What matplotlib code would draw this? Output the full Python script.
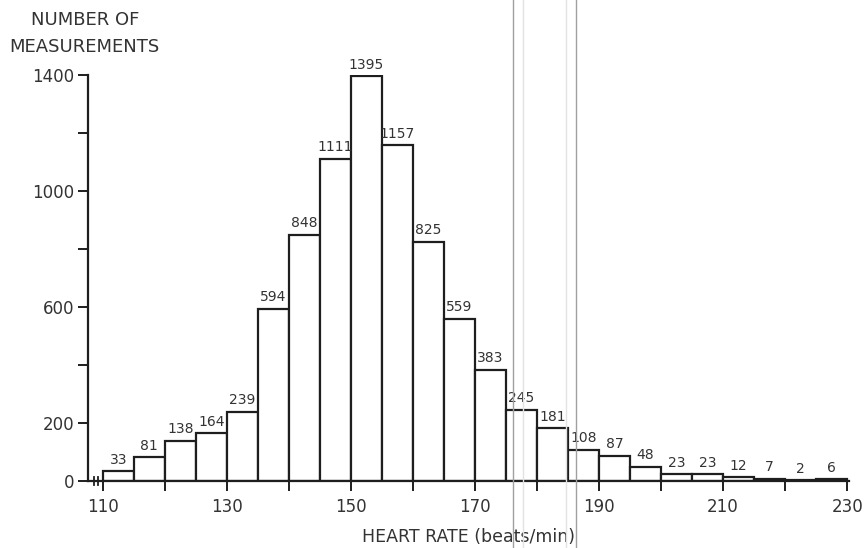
import matplotlib
matplotlib.use("Agg")
import matplotlib.pyplot as plt
from matplotlib.lines import Line2D

# histogram of heart rate, 5 beats/min bins starting at 110
bin_start = 110
bin_width = 5
counts = [33, 81, 138, 164, 239, 594, 848, 1111, 1395, 1157, 825, 559,
          383, 245, 181, 108, 87, 48, 23, 23, 12, 7, 2, 6]
x_tick_labels = [110, 130, 150, 170, 190, 210, 230]
y_tick_labels = [0, 200, 600, 1000, 1400]

edges = [bin_start + i * bin_width for i in range(len(counts))]

plt.rcParams['font.family'] = ['DejaVu Sans']
ink = "#1e1e1e"
txt = "#333333"

fig = plt.figure(figsize=(8.65, 5.48), dpi=100)
ax = fig.add_axes([0.1017, 0.1223, 0.8798, 0.7408])

ax.bar(edges, counts, width=bin_width, align="edge", color="white",
       edgecolor=ink, linewidth=1.6, zorder=2)

for x, c in zip(edges, counts):
    ax.text(x + bin_width / 2, c + 16, str(c), ha="center", va="bottom",
            fontsize=10, color=txt)

ax.set_xlim(107.6, 230.3)
ax.set_ylim(0, 1400)

for s in ["top", "right"]:
    ax.spines[s].set_visible(False)
for s in ["left", "bottom"]:
    ax.spines[s].set_linewidth(1.6)
    ax.spines[s].set_color(ink)

ax.set_xticks(range(110, 231, 10))
ax.set_xticklabels([str(v) if v in x_tick_labels else "" for v in range(110, 231, 10)])
ax.set_yticks(range(0, 1401, 200))
ax.set_yticklabels([str(v) if v in y_tick_labels else "" for v in range(0, 1401, 200)])
ax.tick_params(axis="both", direction="out", length=7, width=1.4, color=ink,
               labelsize=12, labelcolor=txt)
ax.tick_params(axis="x", pad=5)
ax.tick_params(axis="y", pad=3)

# axis break marks between the y axis and 110
for xb in [108.6, 109.2]:
    ax.plot([xb, xb], [-14, 14], color=ink, lw=1.3, clip_on=False, zorder=3)

ax.set_xlabel("HEART RATE (beats/min)", fontsize=12.5, color=txt, labelpad=9)
fig.text(0.098, 0.963, "NUMBER OF", ha="center", va="center", fontsize=13, color=txt)
fig.text(0.098, 0.914, "MEASUREMENTS", ha="center", va="center", fontsize=13, color=txt)

# faint scan lines from the original page
for xf, col in [(513, "#a0a0a0"), (523, "#e2e2e2"), (566, "#e2e2e2"), (576, "#a0a0a0")]:
    fig.add_artist(Line2D([xf / 865, xf / 865], [0, 1], color=col, lw=1.0))

fig.savefig("out.png", dpi=100)
